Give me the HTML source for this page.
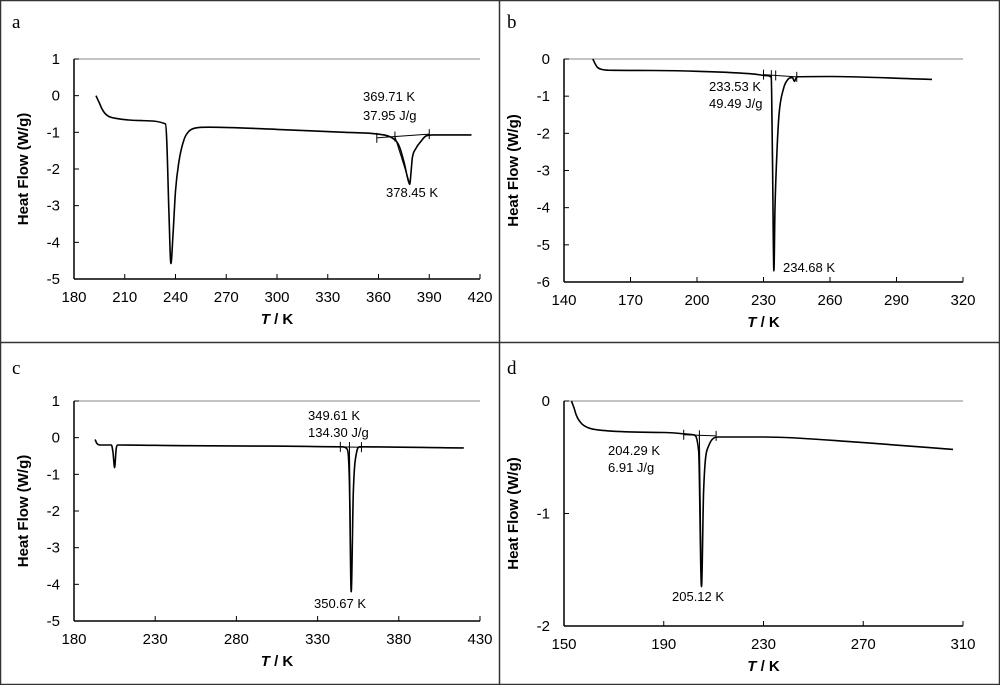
<!DOCTYPE html>
<html><head><meta charset="utf-8"><style>
html,body{margin:0;padding:0;background:#fff}
svg{display:block}
text{font-family:"Liberation Sans",Arial,sans-serif;fill:#000}
</style></head><body>
<svg id="c" width="1000" height="685" viewBox="0 0 1000 685" xmlns="http://www.w3.org/2000/svg">
<rect x="0.5" y="0.5" width="999" height="684" fill="#fff" stroke="#333" stroke-width="1.5"/>
<line x1="499.5" y1="0" x2="499.5" y2="685" stroke="#333" stroke-width="1.5"/>
<line x1="0" y1="342.5" x2="1000" y2="342.5" stroke="#333" stroke-width="1.5"/>
</svg>
<script>
// Panel a
const aT=[193,195,197,200,205,220,234,234.8,236,237.3,238.5,240,242,245,248,252,260,300,340,360,368,372,375,377.5,378.45,379.2,380,382,385,388,392,415];
const aH=[0,-0.2,-0.4,-0.55,-0.62,-0.68,-0.77,-1.2,-3.0,-4.58,-3.8,-2.6,-1.8,-1.2,-0.97,-0.88,-0.86,-0.92,-1.0,-1.05,-1.15,-1.35,-1.8,-2.3,-2.42,-2.1,-1.7,-1.45,-1.25,-1.1,-1.07,-1.07];
const aXT=[180,210,240,270,300,330,360,390,420];
const aYT=[1,0,-1,-2,-3,-4,-5];
// Panel b
const bT=[153,154,155,157,160,180,200,225,232,233.5,234,234.68,235.2,236,237,239,241,243,244,245,260,306];
const bH=[0,-0.12,-0.22,-0.28,-0.3,-0.31,-0.33,-0.4,-0.45,-0.5,-2.5,-5.7,-4.0,-2.6,-1.5,-0.8,-0.55,-0.5,-0.6,-0.48,-0.47,-0.55];
const bXT=[140,170,200,230,260,290,320];
const bYT=[0,-1,-2,-3,-4,-5,-6];
// Panel c
const cT=[193,194,196,203,204,205,206,207,250,300,345,348,349.6,350.67,352,354,356,420];
const cH=[-0.05,-0.15,-0.2,-0.2,-0.4,-0.82,-0.3,-0.2,-0.22,-0.23,-0.25,-0.3,-1.2,-4.2,-1.5,-0.4,-0.25,-0.28];
const cXT=[180,230,280,330,380,430];
const cYT=[1,0,-1,-2,-3,-4,-5];
// Panel d
const dT=[153,154,155,157,160,165,190,202,204,205.12,206,208,212,230,270,306];
const dH=[0,-0.06,-0.13,-0.2,-0.24,-0.26,-0.28,-0.3,-0.45,-1.65,-0.8,-0.4,-0.32,-0.32,-0.37,-0.43];
const dXT=[150,190,230,270,310];
const dYT=[0,-1,-2];

const NS="http://www.w3.org/2000/svg";
const svg=document.getElementById('c');
function mk(tag,attrs,parent){const e=document.createElementNS(NS,tag);for(const k in attrs)e.setAttribute(k,attrs[k]);(parent||svg).appendChild(e);return e;}

function monotonePath(px,py){
  const n=px.length;if(n<3)return 'M'+px[0]+' '+py[0]+' L'+px[1]+' '+py[1];
  const dx=[],s=[];for(let i=0;i<n-1;i++){dx[i]=px[i+1]-px[i];s[i]=(py[i+1]-py[i])/dx[i];}
  const m=[s[0]];for(let i=1;i<n-1;i++){m[i]=(s[i-1]*s[i]<=0)?0:(s[i-1]+s[i])/2;}m[n-1]=s[n-2];
  for(let i=0;i<n-1;i++){if(s[i]===0){m[i]=0;m[i+1]=0;continue;}const a=m[i]/s[i],b=m[i+1]/s[i],h=a*a+b*b;if(h>9){const t=3/Math.sqrt(h);m[i]=t*a*s[i];m[i+1]=t*b*s[i];}}
  let d='M'+px[0].toFixed(1)+' '+py[0].toFixed(1);
  for(let i=0;i<n-1;i++){const h=dx[i]/3;d+=` C${(px[i]+h).toFixed(1)} ${(py[i]+m[i]*h).toFixed(1)} ${(px[i+1]-h).toFixed(1)} ${(py[i+1]-m[i+1]*h).toFixed(1)} ${px[i+1].toFixed(1)} ${py[i+1].toFixed(1)}`;}
  return d;
}

function panel(p){
  const g=mk('g',{});
  
  
  const x0=p.xt[0],x1=p.xt[p.xt.length-1],y0=p.yt[0],y1=p.yt[p.yt.length-1];
  const X=v=>p.L+(v-x0)/(x1-x0)*(p.R-p.L);
  const Y=v=>p.T+(v-y0)/(y1-y0)*(p.B-p.T);
  const lt=mk('text',{x:p.lx,y:p.ly,'font-size':19,style:'font-family:"Liberation Serif",serif'},g);lt.textContent=p.id;
  
  
  const top=mk('line',{x1:p.L,y1:p.T,x2:p.R,y2:p.T,stroke:'#888','stroke-width':1},g);
  
  
  const xa=mk('line',{x1:p.L,y1:p.B,x2:p.R,y2:p.B,stroke:'#000','stroke-width':1.5},g);
  
  
  const ya=mk('line',{x1:p.L,y1:p.T,x2:p.L,y2:p.B,stroke:'#000','stroke-width':1.5},g);
  
  
  p.xt.forEach(v=>{
    const t=mk('line',{x1:X(v),y1:p.B,x2:X(v),y2:p.B-5,stroke:'#000','stroke-width':1},g);
    
    
    const l=mk('text',{x:X(v),y:p.B+23,'font-size':15,'text-anchor':'middle'},g);l.textContent=v;
    
    
  });
  p.yt.forEach(v=>{
    const t=mk('line',{x1:p.L,y1:Y(v),x2:p.L+5,y2:Y(v),stroke:'#000','stroke-width':1},g);
    
    
    const l=mk('text',{x:p.L-14,y:Y(v)+5,'font-size':15,'text-anchor':'end'},g);l.textContent=v;
    
    
  });
  const yt=mk('text',{x:0,y:0,'font-size':15,'font-weight':'bold','text-anchor':'middle',transform:`translate(${p.L-46},${(p.T+p.B)/2}) rotate(-90)`},g);
  yt.textContent='Heat Flow (W/g)';
  
  
  const xt=mk('text',{x:(p.L+p.R)/2,y:p.B+45,'font-size':15,'font-weight':'bold','text-anchor':'middle'},g);
  xt.innerHTML='<tspan font-style="italic">T</tspan> / K';
  
  
  const d=monotonePath(p.t.map(X),p.h.map(Y));
  const c=mk('path',{d:d,fill:'none',stroke:'#000','stroke-width':1.6,'stroke-linejoin':'round'},g);
  
  
  const b=p.base;
  const bl=mk('line',{x1:X(b[0]),y1:Y(b[1]),x2:X(b[2]),y2:Y(b[3]),stroke:'#000','stroke-width':1},g);
  
  
  b[4].forEach(v=>{
    const yy=Y(b[1]+(b[3]-b[1])*(v-b[0])/(b[2]-b[0]));
    const m=mk('line',{x1:X(v),y1:yy-5,x2:X(v),y2:yy+5,stroke:'#000','stroke-width':1},g);
    
    
  });
  const on=mk('line',{x1:X(p.onset),y1:Y(b[1]+(b[3]-b[1])*(p.onset-b[0])/(b[2]-b[0])),x2:X(p.peak[0]),y2:Y(p.peak[1]),stroke:'#000','stroke-width':1},g);
  
  
  p.ann.forEach(a=>{
    const l=mk('text',{x:a[0],y:a[1],'font-size':13},g);l.textContent=a[2];
    
    
  });
}
panel({id:'a',L:74,R:480,T:59,B:279,lx:12,ly:28,xt:aXT,yt:aYT,t:aT,h:aH,
  base:[359,-1.15,390,-1.05,[359,369.71,390]],onset:369.71,peak:[378.45,-2.4],
  ann:[[363,101,'369.71 K'],[363,120,'37.95 J/g'],[386,197,'378.45 K']]});
panel({id:'b',L:564,R:963,T:59,B:282,lx:507,ly:28,xt:bXT,yt:bYT,t:bT,h:bH,
  base:[230,-0.42,245,-0.48,[230,233.53,235.5,245]],onset:233.53,peak:[234.68,-5.7],
  ann:[[709,91,'233.53 K'],[709,108,'49.49 J/g'],[783,272,'234.68 K']]});
panel({id:'c',L:74,R:480,T:401,B:621,lx:12,ly:374,xt:cXT,yt:cYT,t:cT,h:cH,
  base:[344,-0.25,357,-0.26,[344,349.61,357]],onset:349.61,peak:[350.67,-4.2],
  ann:[[308,420,'349.61 K'],[308,437,'134.30 J/g'],[314,608,'350.67 K']]});
panel({id:'d',L:564,R:963,T:401,B:626,lx:507,ly:374,xt:dXT,yt:dYT,t:dT,h:dH,
  base:[198,-0.3,211,-0.31,[198,204.29,211]],onset:204.29,peak:[205.12,-1.65],
  ann:[[608,455,'204.29 K'],[608,472,'6.91 J/g'],[672,601,'205.12 K']]});
</script>
</body></html>
